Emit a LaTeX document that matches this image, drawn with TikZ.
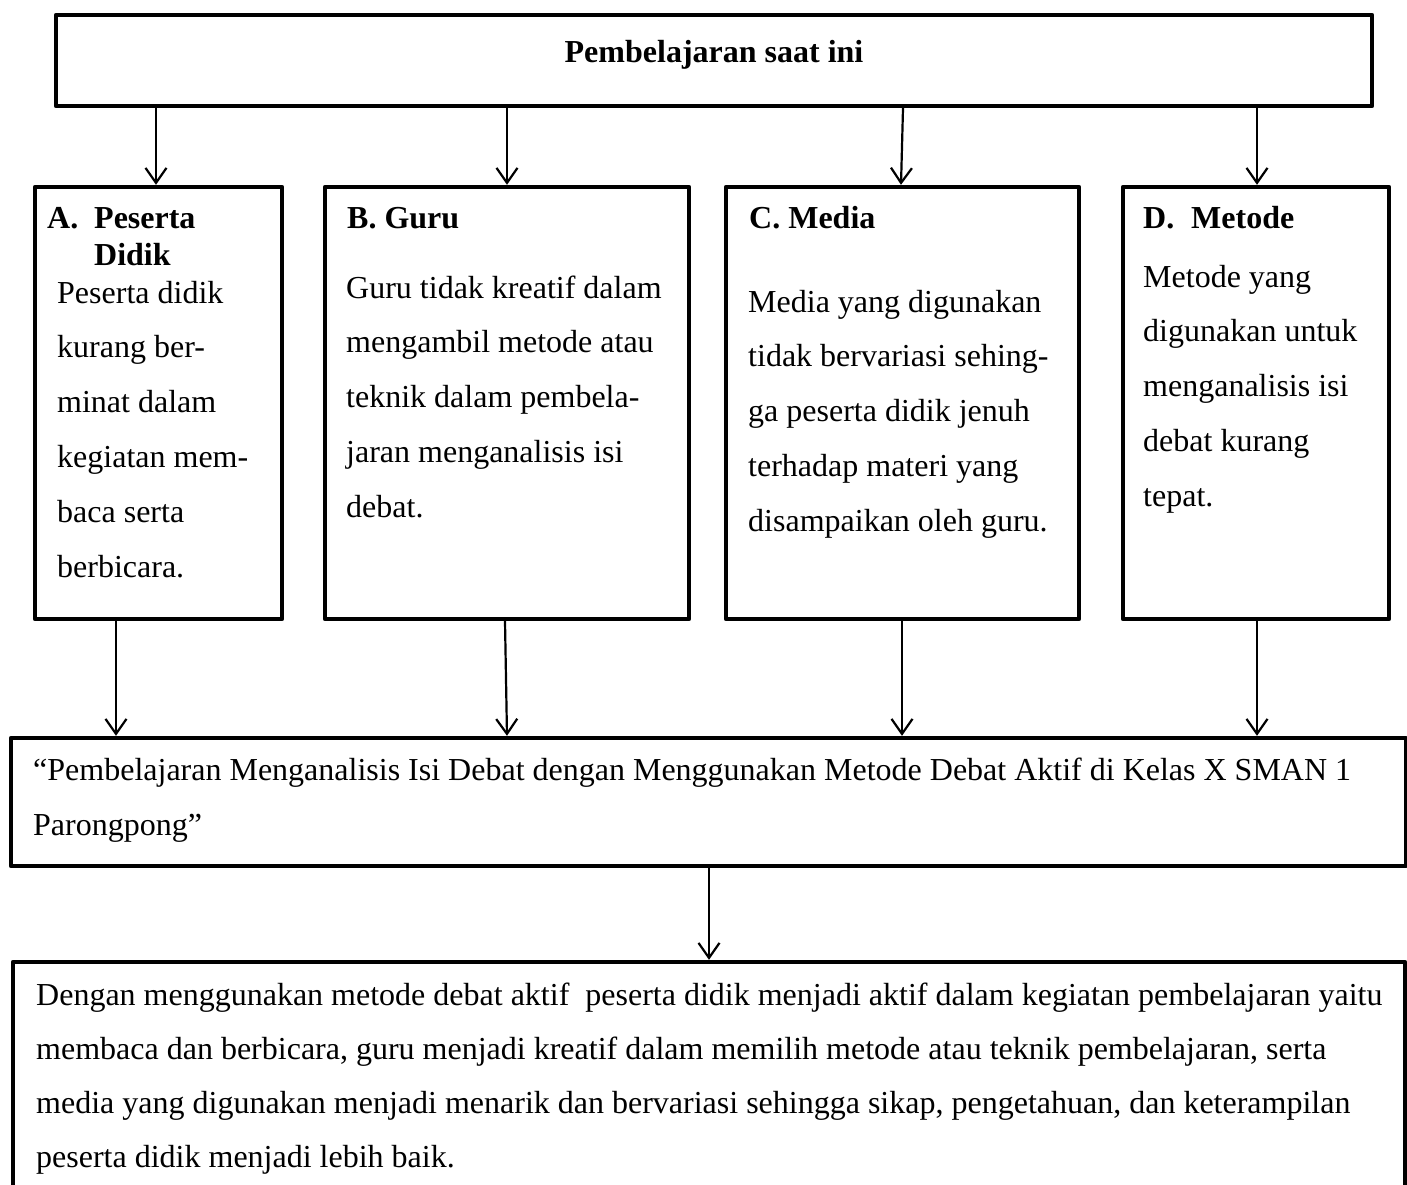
\documentclass[tikz,border=0pt]{standalone}
\usepackage{fontspec}
\setmainfont{Liberation Serif}
\usetikzlibrary{arrows.meta}
\begin{document}
\begin{tikzpicture}[x=1pt,y=-1pt,
  boxd/.style={draw, line width=4.4pt, line join=round, inner sep=0pt},
  arr/.style={line width=2.2pt, -{Straight Barb[length=15pt,width=21pt]}},
  txt/.style={anchor=base west, inner sep=0pt, font=\fontsize{32}{38}\selectfont},
  hd/.style={txt, font=\fontsize{32}{38}\selectfont\bfseries}]
\useasboundingbox (0,0) rectangle (1407,1184);
% boxes
\node[boxd, minimum width=1316pt, minimum height=91pt] (top) at (714,60.5) {};
\node[boxd, minimum width=247pt, minimum height=432pt] (A) at (158.5,403) {};
\node[boxd, minimum width=364pt, minimum height=432pt] (B) at (507,403) {};
\node[boxd, minimum width=353pt, minimum height=432pt] (C) at (902.5,403) {};
\node[boxd, minimum width=266pt, minimum height=432pt] (D) at (1256,403) {};
\node[boxd, minimum width=1395pt, minimum height=128pt] (mid) at (708.5,802) {};
\node[boxd, minimum width=1392pt, minimum height=238pt] (bot) at (709,1081) {};
% title
\node[hd, anchor=base] (title) at (714,62) {Pembelajaran saat ini};
% A
\node[hd] (Ah1) at (47,228) {A.};
\node[hd] (Ah2) at (94,228) {Peserta};
\node[hd] (Ah3) at (94,265) {Didik};
\foreach \t [count=\i from 0] in {Peserta didik, kurang ber-, minat dalam, kegiatan mem-, baca serta, berbicara.}
  \node[txt] (a\i) at (57,{303+54.8*\i}) {\t};
% B
\node[hd] (Bh) at (347,228) {B. Guru};
\foreach \t [count=\i from 0] in {Guru tidak kreatif dalam, mengambil metode atau, teknik dalam pembela-, jaran menganalisis isi, debat.}
  \node[txt] (b\i) at (346,{298+54.8*\i}) {\t};
% C
\node[hd] (Ch) at (749,228) {C. Media};
\foreach \t [count=\i from 0] in {Media yang digunakan, tidak bervariasi sehing-, ga peserta didik jenuh, terhadap materi yang, disampaikan oleh guru.}
  \node[txt] (c\i) at (748,{312+54.8*\i}) {\t};
% D
\node[hd] (Dh1) at (1143,228) {D.};
\node[hd] (Dh2) at (1191,228) {Metode};
\foreach \t [count=\i from 0] in {Metode yang, digunakan untuk, menganalisis isi, debat kurang, tepat.}
  \node[txt] (d\i) at (1143,{287+54.8*\i}) {\t};
% middle
\node[txt] (m0) at (33,780) {“Pembelajaran Menganalisis Isi Debat dengan Menggunakan Metode Debat Aktif di Kelas X SMAN 1};
\node[txt] (m1) at (33,835) {Parongpong”};
% bottom
\foreach \t [count=\i from 0] in {{Dengan menggunakan metode debat aktif~ peserta didik menjadi aktif dalam kegiatan pembelajaran yaitu},
  {membaca dan berbicara, guru menjadi kreatif dalam memilih metode atau teknik pembelajaran, serta},
  {media yang digunakan menjadi menarik dan bervariasi sehingga sikap, pengetahuan, dan keterampilan},
  {peserta didik menjadi lebih baik.}}
  \node[txt] (e\i) at (36,{1005+54*\i}) {\t};
% arrows
\draw[arr] (top.south -| 156,0) -- (A.north -| 156,0);
\draw[arr] (top.south -| 507,0) -- (B.north -| 507,0);
\draw[arr] (top.south -| 903,0) -- (C.north -| 901,0);
\draw[arr] (top.south -| 1257,0) -- (D.north -| 1257,0);
\draw[arr] (A.south -| 116,0) -- (mid.north -| 116,0);
\draw[arr] (B.south -| 505,0) -- (mid.north -| 507,0);
\draw[arr] (C.south -| 902,0) -- (mid.north -| 902,0);
\draw[arr] (D.south -| 1257,0) -- (mid.north -| 1257,0);
\draw[arr] (mid.south -| 709,0) -- (bot.north -| 709,0);
\end{tikzpicture}
\end{document}
